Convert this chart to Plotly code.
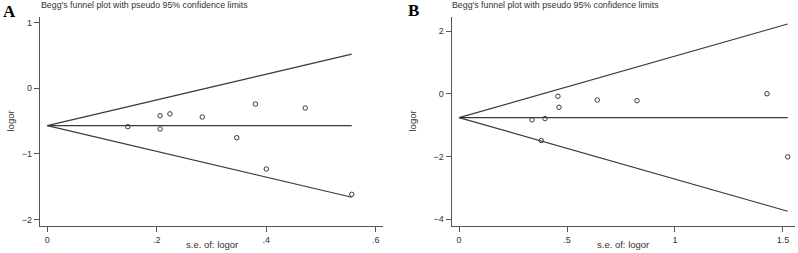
import plotly.graph_objects as go

# Panel A data
se_a = [0.147, 0.206, 0.224, 0.206, 0.283, 0.380, 0.471, 0.346, 0.400, 0.556]
logor_a = [-0.585, -0.418, -0.390, -0.620, -0.437, -0.240, -0.300, -0.753, -1.230, -1.616]
pooled_a = -0.57

# Panel B data
se_b = [0.458, 0.463, 0.640, 0.824, 1.426, 0.338, 0.398, 0.381, 1.522]
logor_b = [-0.08, -0.43, -0.20, -0.22, 0.00, -0.83, -0.79, -1.49, -2.01]
pooled_b = -0.76

xticks_a = [0, 0.2, 0.4, 0.6]
xticklabels_a = ["0", ".2", ".4", ".6"]
yticks_a = [1, 0, -1, -2]
xticks_b = [0, 0.5, 1, 1.5]
xticklabels_b = ["0", ".5", "1", "1.5"]
yticks_b = [2, 0, -2, -4]

W, H = 798, 253
LINE = "#3a3a3a"
AX = "#555555"
TXT = "#333333"
FONT = "Liberation Sans"

fig = go.Figure()

def add_panel(se, lo, pooled, xa, ya):
    smax = max(se)
    for y_end in (pooled + 1.96 * smax, pooled - 1.96 * smax, pooled):
        fig.add_trace(go.Scatter(x=[0, smax], y=[pooled, y_end], mode="lines",
                                 line=dict(color=LINE, width=1.2), xaxis=xa, yaxis=ya,
                                 showlegend=False, hoverinfo="skip"))
    fig.add_trace(go.Scatter(x=se, y=lo, mode="markers",
                             marker=dict(symbol="circle-open", size=4.5, color=LINE, line=dict(width=1)),
                             xaxis=xa, yaxis=ya, showlegend=False))

add_panel(se_a, logor_a, pooled_a, "x", "y")
add_panel(se_b, logor_b, pooled_b, "x2", "y2")

def px(x):
    return x / W

def py(y):
    return 1 - y / H

tickfont = dict(family=FONT, size=9, color=TXT)
common = dict(showgrid=False, zeroline=False, showline=True, linecolor=AX, linewidth=1.3,
              ticks="outside", ticklen=5, tickwidth=1, tickcolor=AX, tickfont=tickfont,
              automargin=False, ticklabeloverflow="allow")

fig.update_layout(
    width=W, height=H,
    margin=dict(l=0, r=0, t=0, b=0, autoexpand=False),
    paper_bgcolor="white", plot_bgcolor="white",
    xaxis=dict(domain=[px(40), px(383)], range=[-0.01333, 0.6131], tickvals=xticks_a,
               ticktext=xticklabels_a, anchor="y", **common),
    yaxis=dict(domain=[py(225.7), py(16.7)], range=[-2.094, 1.091], tickvals=yticks_a,
               anchor="x", **common),
    xaxis2=dict(domain=[px(451.7), px(795)], range=[-0.0338, 1.5556], tickvals=xticks_b,
                ticktext=xticklabels_b, anchor="y2", **common),
    yaxis2=dict(domain=[py(225.7), py(16.7)], range=[-4.204, 2.456], tickvals=yticks_b,
                anchor="x2", **common),
)

def ann(text, x, y, size=10, family=FONT, color=TXT, xanchor="left", angle=0):
    fig.add_annotation(text=text, x=px(x), y=py(y), xref="paper", yref="paper",
                       xanchor=xanchor, yanchor="middle", showarrow=False, textangle=angle,
                       font=dict(family=family, size=size, color=color))

title = "Begg's funnel plot with pseudo 95% confidence limits"
ann(title, 39, 5.5, size=8.8)
ann(title, 450, 5.5, size=8.8)
ann("<b>A</b>", 1, 11.5, size=17, family="Liberation Serif", color="black")
ann("<b>B</b>", 406, 10.5, size=17, family="Liberation Serif", color="black")
ann("s.e. of: logor", 212, 244, size=9.5, xanchor="center")
ann("s.e. of: logor", 623, 244, size=9.5, xanchor="center")
ann("logor", 9.5, 121, size=9.5, xanchor="center", angle=-90)
ann("logor", 411.5, 121, size=9.5, xanchor="center", angle=-90)

# remove the default page margin so the figure starts at the window's top-left corner
fig.write_html("out.html", config={"displayModeBar": False},
               post_script="document.body.style.margin='0px';")
